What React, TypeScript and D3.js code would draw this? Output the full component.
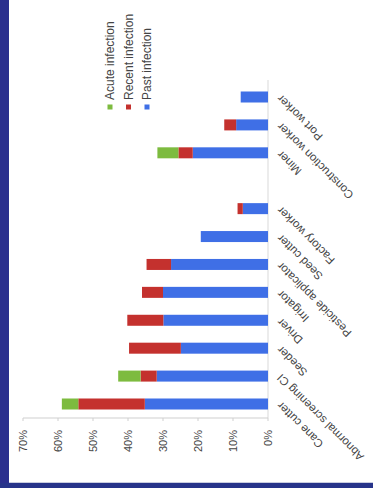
import React from "react";
import * as d3 from "d3";

const categories = [
  "Cane cutter",
  "Abnormal screening CI",
  "Seeder",
  "Driver",
  "Irrigator",
  "Pesticide applicator",
  "Seed cutter",
  "Factory worker",
  "",
  "Miner",
  "Construction worker",
  "Port worker",
];
const pastInfection = [35.2, 31.8, 24.9, 29.9, 30.0, 27.7, 19.2, 7.2, 0, 21.5, 9.1, 7.8];
const recentInfection = [19.0, 4.6, 14.8, 10.3, 6.0, 7.0, 0, 1.5, 0, 4.1, 3.4, 0];
const acuteInfection = [4.7, 6.4, 0, 0, 0, 0, 0, 0, 0, 6.0, 0, 0];
const valueTicks = [0, 10, 20, 30, 40, 50, 60, 70];

const seriesNames = ["Past infection", "Recent infection", "Acute infection"];
const seriesColors = ["#3f6fe6", "#c4312e", "#7dbb3f"];
const legendOrder = [2, 1, 0];

const W = 373;
const H = 488;

export default function App() {
  const x = d3.scaleLinear().domain([0, 70]).range([268, 23]);
  const y = d3.scalePoint<string>().domain(categories.map((c, i) => c + "#" + i)).range([404, 97]);
  const barH = 11;

  const rows = categories.map((c, i) => ({ key: c + "#" + i, label: c, vals: [pastInfection[i], recentInfection[i], acuteInfection[i]] }));
  const stack = d3.stack<any>().keys(["0", "1", "2"]).value((d: any, k: string) => d.vals[+k])(rows as any);

  const legendX = d3.scalePoint<number>().domain(legendOrder).range([110, 147]);

  return (
    <svg width={W} height={H} style={{ position: "absolute", left: 0, top: 0, fontFamily: "Liberation Sans, Arial, sans-serif" }}>
      <rect x={0} y={0} width={W} height={H} fill="#ffffff" />
      {/* frame */}
      <rect x={0} y={0} width={9} height={H} fill="#2b2f8e" />
      <rect x={0} y={483} width={W} height={5} fill="#27348a" />
      <line x1={9} x2={W} y1={482.5} y2={482.5} stroke="#c9cde0" />

      {/* axes */}
      <line x1={x(0)} x2={x(0)} y1={80} y2={418} stroke="#d9d9d9" strokeWidth={1} />
      <line x1={x(70)} x2={x(0)} y1={418} y2={418} stroke="#cfcfcf" strokeWidth={1} />
      {valueTicks.map((t) => (
        <line key={"tk" + t} x1={x(t)} x2={x(t)} y1={418} y2={421} stroke="#cfcfcf" />
      ))}
      {valueTicks.map((t) => (
        <text
          key={"tl" + t}
          transform={`translate(${x(t)},430) rotate(-90)`}
          textAnchor="end"
          dy="0.35em"
          fontSize={11}
          fill="#444"
        >
          {t + "%"}
        </text>
      ))}

      {/* bars */}
      {stack.map((s, si) =>
        s.map((d: any, i: number) => {
          const v0 = d[0];
          const v1 = d[1];
          if (v1 - v0 <= 0) return null;
          const cy = y(rows[i].key) as number;
          return (
            <rect
              key={si + "-" + i}
              x={x(v1)}
              y={cy - barH / 2}
              width={x(v0) - x(v1)}
              height={barH}
              fill={seriesColors[si]}
            />
          );
        })
      )}

      {/* category labels */}
      {rows.map((r) => (
        <text
          key={"cl" + r.key}
          transform={`translate(279,${y(r.key)}) rotate(-135)`}
          textAnchor="end"
          dy="0.35em"
          fontSize={11.5}
          fill="#444"
        >
          {r.label}
        </text>
      ))}

      {/* legend */}
      {legendOrder.map((si) => {
        const lx = legendX(si) as number;
        return (
          <g key={"lg" + si}>
            <rect x={lx - 2.5} y={104.5} width={5} height={5} fill={seriesColors[si]} />
            <text
              transform={`translate(${lx},100) rotate(-90)`}
              textAnchor="start"
              dy="0.35em"
              fontSize={12}
              fill="#444"
            >
              {seriesNames[si]}
            </text>
          </g>
        );
      })}
    </svg>
  );
}
